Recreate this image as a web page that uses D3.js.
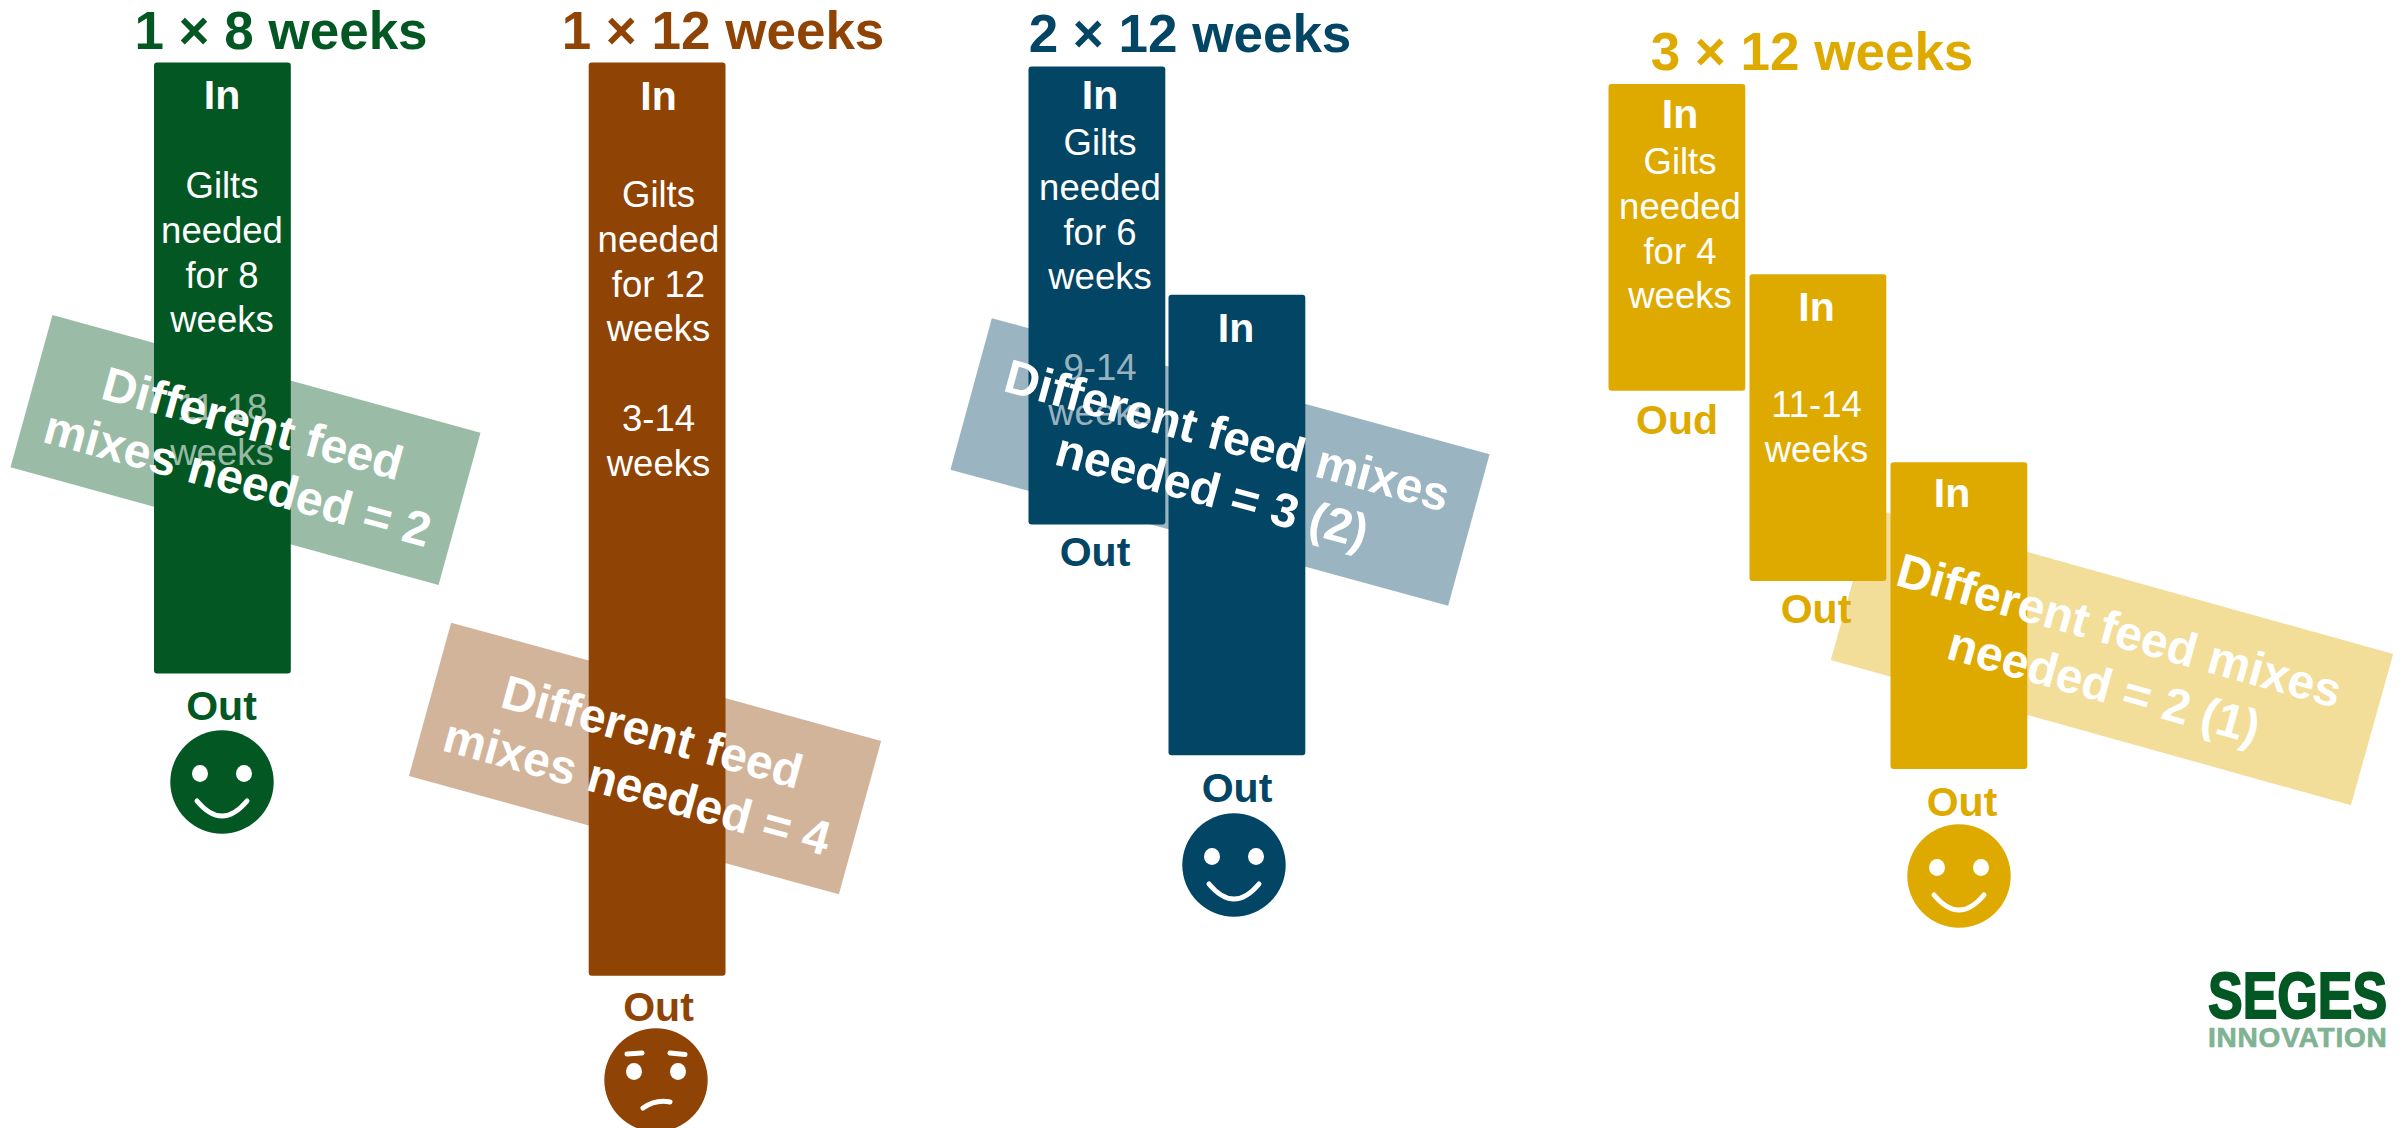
<!DOCTYPE html>
<html><head><meta charset="utf-8">
<script src="https://cdn.jsdelivr.net/npm/d3@7/dist/d3.min.js"></script>
<style>html,body{margin:0;padding:0;background:#fff;overflow:hidden}text{font-family:"Liberation Sans",Arial,sans-serif}</style>
</head><body><svg id="c" width="2404" height="1128"></svg>
<script>
// ---- data ----
const planTitles = ["1 × 8 weeks", "1 × 12 weeks", "2 × 12 weeks", "3 × 12 weeks"];
const planMoods = ["happy", "worried", "happy", "happy"];
const batchPlan = [0, 1, 2, 2, 3, 3, 3];
const batchIndex = [0, 0, 0, 1, 0, 1, 2];
const weekIn = [0, 0, 0, 3, 0, 2.5, 4.97];
const weeksHeld = [8.03, 12, 6.02, 6.05, 4.03, 4.03, 4.03];
const inLabels = ["In", "In", "In", "In", "In", "In", "In"];
const outLabels = ["Out", "Out", "Out", "Out", "Oud", "Out", "Out"];
const bodyLabels = [
  ["Gilts", "needed", "for 8", "weeks"],
  ["Gilts", "needed", "for 12", "weeks", "", "3-14", "weeks"],
  ["Gilts", "needed", "for 6", "weeks"],
  [],
  ["Gilts", "needed", "for 4", "weeks"],
  ["11-14", "weeks"],
  []
];
const fadedLabels = [["11-18", "weeks"], [], ["9-14", "weeks"], [], [], [], []];
const mixLabels = [
  ["Different feed", "mixes needed = 2"],
  ["Different feed", "mixes needed = 4"],
  ["Different feed mixes", "needed = 3 (2)"],
  ["Different feed mixes", "needed = 2 (1)"]
];

// ---- layout ----
const colors = ["#035723", "#8f4304", "#034564", "#dfaa00"];
const planTop = [62.5, 62.5, 66.5, 84];
const planLeft = [154, 588.7, 1028.5, 1608.5];
const planStep = [0, 0, 140, 141];
const barW = 136.8;
const titleXY = [[281, 49], [723, 49], [1190, 52], [1812, 70]];
const bandBox = [
  {cx: 245.5, cy: 450, w: 444, h: 158, a: 15.4},
  {cx: 645, cy: 758.5, w: 446, h: 159, a: 15.4},
  {cx: 1220, cy: 462, w: 516, h: 157, a: 15.3},
  {cx: 2112, cy: 657, w: 540, h: 157, a: 15.6}
];
const inBase = [109, 110, 109, 342, 128, 321, 507];
const labelX = [222, 658.5, 1100, 1236, 1680, 1816.5, 1952];
const outX = [221.5, 658.5, 1095, 1237, 1677, 1816, 1962];
const outBase = [720, 1021, 566, 802, 433.5, 623, 816];
const bodyBase = [198, 207, 155, null, 174, 417, null];
const fadedBase = [420, null, 380, null, null, null, null];
const faceXY = [[222, 782], [656, 1080], [1234, 865], [1959, 876]];

const y = d3.scaleLinear().domain([0, 1]).range([0, 76.1]);
const lineH = 44.8;
const svg = d3.select("#c");
const batches = weekIn.map((w, i) => ({i, plan: batchPlan[i], idx: batchIndex[i], w, held: weeksHeld[i]}));

// mix bands (behind the bars)
svg.append("g").selectAll("rect").data(bandBox).join("rect")
  .attr("x", d => -d.w / 2).attr("y", d => -d.h / 2).attr("width", d => d.w).attr("height", d => d.h)
  .attr("transform", d => `translate(${d.cx},${d.cy}) rotate(${d.a})`)
  .attr("fill", (d, i) => colors[i]).attr("fill-opacity", 0.4);

// bars
svg.append("g").selectAll("rect").data(batches).join("rect")
  .attr("x", d => planLeft[d.plan] + d.idx * planStep[d.plan])
  .attr("y", d => planTop[d.plan] + y(d.w))
  .attr("width", barW).attr("height", d => y(d.held)).attr("rx", 3)
  .attr("fill", d => colors[d.plan]);

// titles
svg.append("g").selectAll("text").data(planTitles).join("text")
  .attr("x", (d, i) => titleXY[i][0]).attr("y", (d, i) => titleXY[i][1])
  .attr("text-anchor", "middle").attr("font-size", 53).attr("font-weight", 700)
  .attr("fill", (d, i) => colors[i]).text(d => d);

// In / Out
const tg = svg.append("g").attr("text-anchor", "middle");
tg.selectAll("text.in").data(batches).join("text").attr("class", "in")
  .attr("x", d => labelX[d.i]).attr("y", d => inBase[d.i])
  .attr("font-size", 41).attr("font-weight", 700).attr("fill", "#fff").text(d => inLabels[d.i]);
tg.selectAll("text.out").data(batches).join("text").attr("class", "out")
  .attr("x", d => outX[d.i]).attr("y", d => outBase[d.i])
  .attr("font-size", 41).attr("font-weight", 700).attr("fill", d => colors[d.plan]).text(d => outLabels[d.i]);

// body text
batches.forEach(b => {
  bodyLabels[b.i].forEach((t, k) => {
    if (t) tg.append("text").attr("x", labelX[b.i]).attr("y", bodyBase[b.i] + k * lineH)
      .attr("font-size", 36.5).attr("fill", "#fff").text(t);
  });
  fadedLabels[b.i].forEach((t, k) => {
    tg.append("text").attr("x", labelX[b.i]).attr("y", fadedBase[b.i] + k * lineH)
      .attr("font-size", 36.5).attr("fill", "#fff").attr("fill-opacity", 0.6).text(t);
  });
});

// band text
mixLabels.forEach((lines, i) => {
  const b = bandBox[i];
  const g = svg.append("g").attr("transform", `translate(${b.cx},${b.cy}) rotate(${b.a})`)
    .attr("text-anchor", "middle").attr("font-size", 48).attr("font-weight", 700).attr("fill", "#fff");
  lines.forEach((t, k) => g.append("text").attr("x", 0).attr("y", -11 + k * 57).text(t));
});

// faces
planMoods.forEach((m, i) => {
  const g = svg.append("g").attr("transform", `translate(${faceXY[i]})`);
  g.append("circle").attr("r", 51.7).attr("fill", colors[i]);
  [-22, 22].forEach(ex => g.append("ellipse").attr("cx", ex).attr("cy", -8.5).attr("rx", 8).attr("ry", 8.5).attr("fill", "#fff"));
  const stroke = p => g.append("path").attr("d", p).attr("fill", "none").attr("stroke", "#fff").attr("stroke-width", 5).attr("stroke-linecap", "round");
  if (m === "happy") stroke("M-25,19Q0,49 25,19");
  else { stroke("M-29,-26L-14,-27"); stroke("M14,-27L29,-25.5"); stroke("M-13,28Q0,19 14,22"); }
});

// logo
const logo = svg.append("g").attr("font-weight", 700);
logo.append("text").attr("transform", "translate(2208,1018) scale(1,1.24)").attr("font-size", 52)
  .attr("fill", "#035723").attr("stroke", "#035723").attr("stroke-width", 1.6).text("SEGES");
logo.append("text").attr("x", 2208).attr("y", 1047).attr("font-size", 28).attr("letter-spacing", 0.8).attr("fill", "#80b294")
  .attr("stroke", "#80b294").attr("stroke-width", 0.7).text("INNOVATION");
</script></body></html>
